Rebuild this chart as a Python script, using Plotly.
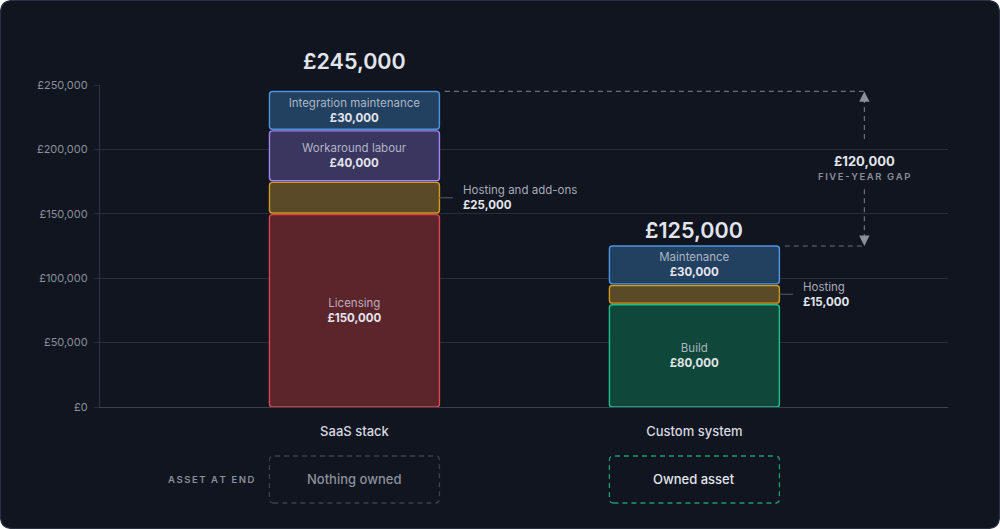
import plotly.graph_objects as go

# ---------------- data ----------------
categories = ["SaaS stack", "Custom system"]
saas_labels = ["Licensing", "Hosting and add-ons", "Workaround labour", "Integration maintenance"]
saas_values = [150000, 25000, 40000, 30000]
custom_labels = ["Build", "Hosting", "Maintenance"]
custom_values = [80000, 15000, 30000]
y_ticks = [0, 50000, 100000, 150000, 200000, 250000]
asset_labels = ["Nothing owned", "Owned asset"]
gap_caption = "FIVE-YEAR GAP"
asset_caption = "ASSET AT END"

# ---------------- styles ----------------
FONT = "Inter, Noto Sans, sans-serif"
BG = "#10151f"
GRID = "#272d3a"
MUTED = "#8a909c"
BRIGHT = "#e2e5ec"
LABEL_COL = "rgba(214,218,226,0.78)"
saas_fill = ["#5c242b", "#5b4a28", "#3b3660", "#22405f"]
saas_line = ["#e0444c", "#d39a1c", "#a086ee", "#4d95e0"]
saas_inside = [True, False, True, True]
custom_fill = ["#10473b", "#5b4a28", "#22405f"]
custom_line = ["#1fbf8a", "#d39a1c", "#4d95e0"]
custom_inside = [True, False, True]
BAR_W = 0.5
Y_MAX = 250000

L, R, T, B = 100, 52, 85, 122
W, H = 1000, 529
pw, ph = W - L - R, H - T - B
SEG_GAP = 1.6 * Y_MAX / ph  # visual gap between stacked segments (px)

def money(v):
    return "£{:,.0f}".format(v)

def spaced(s):
    return "\u2009".join(list(s))

fig = go.Figure()

def add_stack(xi, labels, values, fills, lines, inside):
    cum = 0
    for lab, val, fc, lc, ins in zip(labels, values, fills, lines, inside):
        txt = (f"<span style='color:{LABEL_COL}'>{lab}</span><br>"
               f"<b>{money(val)}</b>") if ins else ""
        lo = cum + (SEG_GAP / 2 if cum > 0 else 0)
        hi = cum + val - (SEG_GAP / 2 if cum + val < sum(values) else 0)
        fig.add_trace(go.Bar(
            x=[xi], y=[hi - lo], base=[lo], width=BAR_W, name=lab,
            marker=dict(color=fc, line=dict(color=lc, width=1.4), cornerradius=3),
            text=[txt], textposition="inside", insidetextanchor="middle",
            textangle=0, constraintext="none",
            textfont=dict(family=FONT, size=11.5, color=BRIGHT),
            hoverinfo="skip", showlegend=False,
        ))
        cum += val

add_stack(0, saas_labels, saas_values, saas_fill, saas_line, saas_inside)
add_stack(1, custom_labels, custom_values, custom_fill, custom_line, custom_inside)

saas_total = sum(saas_values)
custom_total = sum(custom_values)
gap = saas_total - custom_total

annotations = []
shapes = []

# totals
for xi, tot, ys in [(0, saas_total, 15), (1, custom_total, 1)]:
    annotations.append(dict(x=xi, y=tot, xref="x", yref="y", text=money(tot),
                            showarrow=False, yanchor="bottom", yshift=ys,
                            font=dict(family=FONT, size=21.5, color=BRIGHT, weight=600)))

# outside labels for hosting segments
def outside_label(xi, labels, values, idx):
    base = sum(values[:idx])
    mid = base + values[idx] / 2
    shapes.append(dict(type="line", xref="x", yref="y", x0=xi + BAR_W / 2, x1=xi + 0.29,
                       y0=mid, y1=mid, line=dict(color="#4a505c", width=1.2)))
    annotations.append(dict(x=xi + 0.313, y=mid, xref="x", yref="y",
                            text=f"<span style='color:{LABEL_COL}'>{labels[idx]}</span><br><b>{money(values[idx])}</b>",
                            showarrow=False, xanchor="left", yanchor="middle", align="left",
                            font=dict(family=FONT, size=11.5, color=BRIGHT)))

outside_label(0, saas_labels, saas_values, 1)
outside_label(1, custom_labels, custom_values, 1)

# gap indicator
GX = 1.5
DASH = dict(color="#6b717c", width=1.2, dash="5px,4px")
shapes.append(dict(type="line", xref="x", yref="y", x0=BAR_W / 2 + 0.016, x1=GX,
                   y0=saas_total, y1=saas_total, line=DASH))
shapes.append(dict(type="line", xref="x", yref="y", x0=1 + BAR_W / 2 + 0.016, x1=GX,
                   y0=custom_total, y1=custom_total, line=DASH))
mid = (saas_total + custom_total) / 2
half = 16000
shapes.append(dict(type="line", xref="x", yref="y", x0=GX, x1=GX,
                   y0=saas_total - 5000, y1=mid + half + 6000, line=DASH))
shapes.append(dict(type="line", xref="x", yref="y", x0=GX, x1=GX,
                   y0=mid - half, y1=custom_total + 5000, line=DASH))
for yv, ay in [(saas_total, 11), (custom_total, -11)]:
    annotations.append(dict(x=GX, y=yv, xref="x", yref="y", ax=0, ay=ay, text="",
                            showarrow=True, arrowhead=2, arrowsize=1.6, arrowwidth=1.3,
                            arrowcolor="#8a909c", standoff=0))
annotations.append(dict(x=GX, y=mid, xref="x", yref="y", text=f"<b>{money(gap)}</b>",
                        showarrow=False, yshift=8,
                        font=dict(family=FONT, size=13, color=BRIGHT)))
annotations.append(dict(x=GX, y=mid, xref="x", yref="y", text=spaced(gap_caption),
                        showarrow=False, yshift=-8,
                        font=dict(family=FONT, size=9.5, color=MUTED, weight=600)))

# asset row
def rounded_path(x0, x1, y0, y1, rx, ry):
    return (f"M {x0+rx},{y0} L {x1-rx},{y0} Q {x1},{y0} {x1},{y0+ry} "
            f"L {x1},{y1-ry} Q {x1},{y1} {x1-rx},{y1} L {x0+rx},{y1} "
            f"Q {x0},{y1} {x0},{y1-ry} L {x0},{y0+ry} Q {x0},{y0} {x0+rx},{y0} Z")

PX_X = 340.0   # pixels per x unit
box_y0, box_y1 = -0.2981, -0.1522
box_styles = [dict(line="#3a404c", text=MUTED), dict(line="#1a9a72", text=BRIGHT)]
for xi, lab, st in zip([0, 1], asset_labels, box_styles):
    shapes.append(dict(type="path", xref="x", yref="paper",
                       path=rounded_path(xi - BAR_W / 2, xi + BAR_W / 2, box_y0, box_y1,
                                         4 / PX_X, 4 / ph),
                       line=dict(color=st["line"], width=1.3, dash="5px,4px"),
                       fillcolor="rgba(0,0,0,0)"))
    annotations.append(dict(x=xi, y=(box_y0 + box_y1) / 2, xref="x", yref="paper",
                            text=lab, showarrow=False, yanchor="middle",
                            font=dict(family=FONT, size=13, color=st["text"], weight=500)))
annotations.append(dict(x=-0.287, y=(box_y0 + box_y1) / 2, xref="x", yref="paper",
                        text=spaced(asset_caption), showarrow=False, xanchor="right",
                        yanchor="middle",
                        font=dict(family=FONT, size=9.5, color=MUTED, weight=600)))

# card background
def px2paper_x(p):
    return (p - L) / pw
def px2paper_y(p):
    return (H - B - p) / ph
card = rounded_path(px2paper_x(0.5), px2paper_x(999.5), px2paper_y(528.5), px2paper_y(0.5),
                    12 / pw, 12 / ph)
shapes.insert(0, dict(type="path", xref="paper", yref="paper", path=card, layer="below",
                      fillcolor=BG, line=dict(color="#2a3040", width=1.2)))

fig.update_layout(
    width=W, height=H,
    margin=dict(l=L, r=R, t=T, b=B),
    paper_bgcolor="#ffffff",
    plot_bgcolor="rgba(0,0,0,0)",
    barmode="overlay",
    font=dict(family=FONT),
    shapes=shapes,
    annotations=annotations,
    showlegend=False,
    xaxis=dict(range=[-0.7485, 1.746], tickvals=[0, 1], ticktext=categories,
               showgrid=False, zeroline=False, showline=True, linecolor="#3a404c",
               linewidth=1.2, ticks="", ticklabelstandoff=12,
               tickfont=dict(family=FONT, size=13, color="#d6d9e0", weight=500),
               fixedrange=True),
    yaxis=dict(range=[0, Y_MAX], tickvals=y_ticks, ticktext=[money(v) for v in y_ticks],
               showgrid=True, gridcolor=GRID, gridwidth=1.2, zeroline=False,
               showline=True, linecolor="#2f3544", linewidth=1.2,
               ticks="outside", ticklen=5, tickcolor=GRID, tickwidth=1.2,
               ticklabelstandoff=4,
               tickfont=dict(family=FONT, size=11, color=MUTED),
               fixedrange=True),
)

fig.write_html("out.html", config={"displayModeBar": False},
               post_script="document.body.style.margin='0';")
